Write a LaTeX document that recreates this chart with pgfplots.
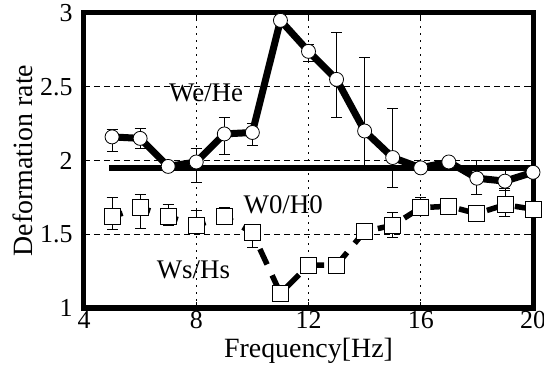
\documentclass[border=0pt]{standalone}
\usepackage{pgfplots}
\pgfplotsset{compat=1.18}
\usepackage{fontspec}
\setmainfont{Liberation Serif}

\begin{document}
\begin{tikzpicture}
\begin{axis}[
  name=ax,
  scale only axis,
  width=449bp, height=295bp,
  xmin=4, xmax=20, ymin=1, ymax=3,
  xtick={4,8,12,16,20},
  ytick={1,1.5,2,2.5,3},
  yticklabels={1,1.5,2,2.5,3},
  /pgf/number format/assume math mode=true,
  tick label style={font=\fontsize{26}{30}\selectfont},
  yticklabel style={xshift=-8bp},
  label style={font=\fontsize{28}{32}\selectfont},
  xlabel={Frequency[Hz]},
  ylabel={Deformation rate},
  xlabel style={yshift=-2bp},
  ylabel style={yshift=0bp},
  axis line style={line width=5bp},
  tick align=inside,
  major tick length=6bp,
  tick style={line width=0.8bp, black},
  grid=major,
  x grid style={black, line width=0.7bp, dash pattern=on 2bp off 5bp},
  y grid style={black, line width=0.7bp, dash pattern=on 6bp off 4bp},
  clip=false,
]

% initial shape W0/H0
\addplot[line width=5.5bp, no marks] coordinates {(4.9,1.95) (20,1.95)};

% Ws/Hs with standard deviation
\addplot[line width=5.5bp, dash pattern=on 17bp off 12bp, dash phase=6bp,
  mark=square*, mark size=8bp,
  mark options={solid, fill=white, draw=black, line width=0.8bp},
  error bars/.cd, y dir=both, y explicit,
  error bar style={line width=0.8bp, solid},
  error mark options={rotate=90, mark size=5.5bp, line width=0.8bp, solid}]
coordinates {
  (5,1.62) += (0,0.13) -= (0,0.09)
  (6,1.68) += (0,0.09) -= (0,0.14)
  (7,1.62) += (0,0.08) -= (0,0.06)
  (8,1.56) += (0,0.10) -= (0,0.05)
  (9,1.62) += (0,0.06) -= (0,0)
  (10,1.51) += (0,0) -= (0,0.10)
  (11,1.10) += (0,0) -= (0,0)
  (12,1.29) += (0,0) -= (0,0)
  (13,1.29) += (0,0) -= (0,0)
  (14,1.52) += (0,0) -= (0,0)
  (15,1.56) += (0,0.09) -= (0,0.08)
  (16,1.68) += (0,0.07) -= (0,0)
  (17,1.69) += (0,0) -= (0,0)
  (18,1.64) += (0,0) -= (0,0)
  (19,1.70) += (0,0.11) -= (0,0.08)
  (20,1.67) += (0,0) -= (0,0)
};

% We/He with standard deviation
\addplot[line width=7bp,
  mark=*, mark size=7bp,
  mark options={fill=white, draw=black, line width=0.8bp},
  error bars/.cd, y dir=both, y explicit,
  error bar style={line width=0.8bp},
  error mark options={rotate=90, mark size=5.5bp, line width=0.8bp}]
coordinates {
  (5,2.16) += (0,0.05) -= (0,0.10)
  (6,2.15) += (0,0.07) -= (0,0.07)
  (7,1.96) += (0,0) -= (0,0)
  (8,1.99) += (0,0.09) -= (0,0.14)
  (9,2.18) += (0,0.11) -= (0,0.14)
  (10,2.19) += (0,0.06) -= (0,0.09)
  (11,2.95) += (0,0) -= (0,0)
  (12,2.74) += (0,0.05) -= (0,0.07)
  (13,2.55) += (0,0.32) -= (0,0.26)
  (14,2.20) += (0,0.50) -= (0,0.25)
  (15,2.02) += (0,0.33) -= (0,0.20)
  (16,1.95) += (0,0) -= (0,0)
  (17,1.99) += (0,0) -= (0,0)
  (18,1.88) += (0,0.12) -= (0,0.11)
  (19,1.86) += (0,0.11) -= (0,0.06)
  (20,1.92) += (0,0) -= (0,0)
};

\node[font=\fontsize{27}{30}\selectfont] at (axis cs:8.35,2.46) {We/He};
\node[font=\fontsize{27}{30}\selectfont] at (axis cs:11.1,1.70) {W0/H0};
\node[font=\fontsize{27}{30}\selectfont] at (axis cs:7.9,1.26) {Ws/Hs};
\end{axis}
\pgfresetboundingbox
\path[use as bounding box] ([xshift=-84bp,yshift=-58bp]ax.south west) rectangle ([xshift=11bp,yshift=13bp]ax.north east);
\end{tikzpicture}
\end{document}
